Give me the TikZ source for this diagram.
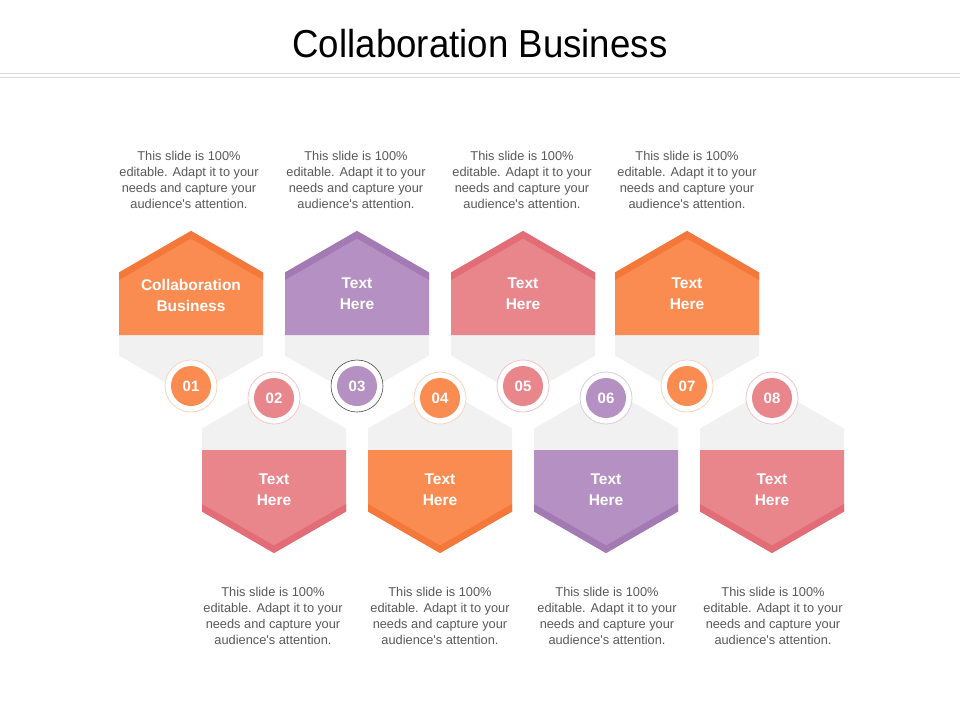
\documentclass[tikz,border=0pt]{standalone}
\usepackage{fontspec}
\setmainfont{Liberation Sans}
\usepackage{xcolor}
\usepackage{tikz}

\definecolor{orangeC}{HTML}{FA8C52}
\definecolor{orangeD}{HTML}{F3783A}
\definecolor{orangeR}{HTML}{FBD3BC}
\definecolor{purpleC}{HTML}{B590C2}
\definecolor{purpleD}{HTML}{A47AB5}
\definecolor{purpleR}{HTML}{DCCAE3}
\definecolor{pinkC}{HTML}{E9868C}
\definecolor{pinkD}{HTML}{E26D77}
\definecolor{pinkR}{HTML}{F3C4C7}
\definecolor{hexgrey}{HTML}{F2F1F2}
\definecolor{bodytext}{HTML}{595959}
\definecolor{ruleline}{HTML}{DADADA}

\newcommand{\slidetext}{This slide is 100\%\\editable. Adapt it to your\\needs and capture your\\audience\textquotesingle s attention.}

\tikzset{
  desc/.style={align=center, text=bodytext, font=\fontsize{12.8}{16}\selectfont},
  hexlabel/.style={align=center, text=white, font=\fontsize{15.5}{21}\selectfont\bfseries},
  numdot/.style={circle, minimum size=40pt, inner sep=0pt, text=white, font=\fontsize{15}{18}\selectfont\bfseries},
  ringline/.style={fill=white, line width=0.8pt},
}

\begin{document}
\begin{tikzpicture}[x=1pt,y=-1pt]
    \useasboundingbox[fill=white] (0,0) rectangle (960,720);
    % Titre
    \node[font=\fontsize{39}{44}\selectfont\addfontfeature{FakeStretch=0.94}] (title) at (480,44) {Collaboration Business};
    \draw[ruleline, line width=1pt] (0,73) -- (960,73); % Ligne haut
    \draw[ruleline, line width=1pt] (0,77) -- (960,77); % Ligne bas

    % Hexagone 1 (haut)
    \begin{scope}[shift={(191,314)}]
    \fill[hexgrey] (0,-83)--(72,-41.5)--(72,41.5)--(0,83)--(-72,41.5)--(-72,-41.5)--cycle;
    \fill[orangeC] (-72,21)--(-72,-41.5)--(0,-83)--(72,-41.5)--(72,21)--cycle;
    \fill[orangeD] (-72,-41.5)--(0,-83)--(72,-41.5)--(72,-34)--(0,-75.5)--(-72,-34)--cycle;
    \node[hexlabel] (h1) at (0,-19) {Collaboration\\Business};
    \end{scope}
    % Hexagone 3 (haut)
    \begin{scope}[shift={(357,314)}]
    \fill[hexgrey] (0,-83)--(72,-41.5)--(72,41.5)--(0,83)--(-72,41.5)--(-72,-41.5)--cycle;
    \fill[purpleC] (-72,21)--(-72,-41.5)--(0,-83)--(72,-41.5)--(72,21)--cycle;
    \fill[purpleD] (-72,-41.5)--(0,-83)--(72,-41.5)--(72,-34)--(0,-75.5)--(-72,-34)--cycle;
    \node[hexlabel] (h3) at (0,-20) {Text\\Here};
    \end{scope}
    % Hexagone 5 (haut)
    \begin{scope}[shift={(523,314)}]
    \fill[hexgrey] (0,-83)--(72,-41.5)--(72,41.5)--(0,83)--(-72,41.5)--(-72,-41.5)--cycle;
    \fill[pinkC] (-72,21)--(-72,-41.5)--(0,-83)--(72,-41.5)--(72,21)--cycle;
    \fill[pinkD] (-72,-41.5)--(0,-83)--(72,-41.5)--(72,-34)--(0,-75.5)--(-72,-34)--cycle;
    \node[hexlabel] (h5) at (0,-20) {Text\\Here};
    \end{scope}
    % Hexagone 7 (haut)
    \begin{scope}[shift={(687,314)}]
    \fill[hexgrey] (0,-83)--(72,-41.5)--(72,41.5)--(0,83)--(-72,41.5)--(-72,-41.5)--cycle;
    \fill[orangeC] (-72,21)--(-72,-41.5)--(0,-83)--(72,-41.5)--(72,21)--cycle;
    \fill[orangeD] (-72,-41.5)--(0,-83)--(72,-41.5)--(72,-34)--(0,-75.5)--(-72,-34)--cycle;
    \node[hexlabel] (h7) at (0,-20) {Text\\Here};
    \end{scope}

    % Hexagone 2 (bas)
    \begin{scope}[shift={(274,470)}]
    \fill[hexgrey] (0,-83)--(72,-41.5)--(72,41.5)--(0,83)--(-72,41.5)--(-72,-41.5)--cycle;
    \fill[pinkC] (-72,-20)--(72,-20)--(72,41.5)--(0,83)--(-72,41.5)--cycle;
    \fill[pinkD] (-72,41.5)--(0,83)--(72,41.5)--(72,34)--(0,75.5)--(-72,34)--cycle;
    \node[hexlabel] (h2) at (0,19.5) {Text\\Here};
    \end{scope}
    % Hexagone 4 (bas)
    \begin{scope}[shift={(440,470)}]
    \fill[hexgrey] (0,-83)--(72,-41.5)--(72,41.5)--(0,83)--(-72,41.5)--(-72,-41.5)--cycle;
    \fill[orangeC] (-72,-20)--(72,-20)--(72,41.5)--(0,83)--(-72,41.5)--cycle;
    \fill[orangeD] (-72,41.5)--(0,83)--(72,41.5)--(72,34)--(0,75.5)--(-72,34)--cycle;
    \node[hexlabel] (h4) at (0,19.5) {Text\\Here};
    \end{scope}
    % Hexagone 6 (bas)
    \begin{scope}[shift={(606,470)}]
    \fill[hexgrey] (0,-83)--(72,-41.5)--(72,41.5)--(0,83)--(-72,41.5)--(-72,-41.5)--cycle;
    \fill[purpleC] (-72,-20)--(72,-20)--(72,41.5)--(0,83)--(-72,41.5)--cycle;
    \fill[purpleD] (-72,41.5)--(0,83)--(72,41.5)--(72,34)--(0,75.5)--(-72,34)--cycle;
    \node[hexlabel] (h6) at (0,19.5) {Text\\Here};
    \end{scope}
    % Hexagone 8 (bas)
    \begin{scope}[shift={(772,470)}]
    \fill[hexgrey] (0,-83)--(72,-41.5)--(72,41.5)--(0,83)--(-72,41.5)--(-72,-41.5)--cycle;
    \fill[pinkC] (-72,-20)--(72,-20)--(72,41.5)--(0,83)--(-72,41.5)--cycle;
    \fill[pinkD] (-72,41.5)--(0,83)--(72,41.5)--(72,34)--(0,75.5)--(-72,34)--cycle;
    \node[hexlabel] (h8) at (0,19.5) {Text\\Here};
    \end{scope}

    % Cercles numerotes
    \draw[ringline, draw=orangeR] (191,386) circle (26);
    \node[numdot, fill=orangeC] (n01) at (191,386) {01};
    \draw[ringline, draw=pinkR] (274,398) circle (26);
    \node[numdot, fill=pinkC] (n02) at (274,398) {02};
    \draw[ringline, draw=black!70, line width=0.6pt] (357,386) circle (26);
    \node[numdot, fill=purpleC] (n03) at (357,386) {03};
    \draw[ringline, draw=orangeR] (440,398) circle (26);
    \node[numdot, fill=orangeC] (n04) at (440,398) {04};
    \draw[ringline, draw=pinkR] (523,386) circle (26);
    \node[numdot, fill=pinkC] (n05) at (523,386) {05};
    \draw[ringline, draw=purpleR] (606,398) circle (26);
    \node[numdot, fill=purpleC] (n06) at (606,398) {06};
    \draw[ringline, draw=orangeR] (687,386) circle (26);
    \node[numdot, fill=orangeC] (n07) at (687,386) {07};
    \draw[ringline, draw=pinkR] (772,398) circle (26);
    \node[numdot, fill=pinkC] (n08) at (772,398) {08};

    % Textes haut
    \node[desc] (d1) at (189,180) {\slidetext};
    \node[desc] (d3) at (356,180) {\slidetext};
    \node[desc] (d5) at (522,180) {\slidetext};
    \node[desc] (d7) at (687,180) {\slidetext};
    % Textes bas
    \node[desc] (d2) at (273,616) {\slidetext};
    \node[desc] (d4) at (440,616) {\slidetext};
    \node[desc] (d6) at (607,616) {\slidetext};
    \node[desc] (d8) at (773,616) {\slidetext};
\end{tikzpicture}
\end{document}
